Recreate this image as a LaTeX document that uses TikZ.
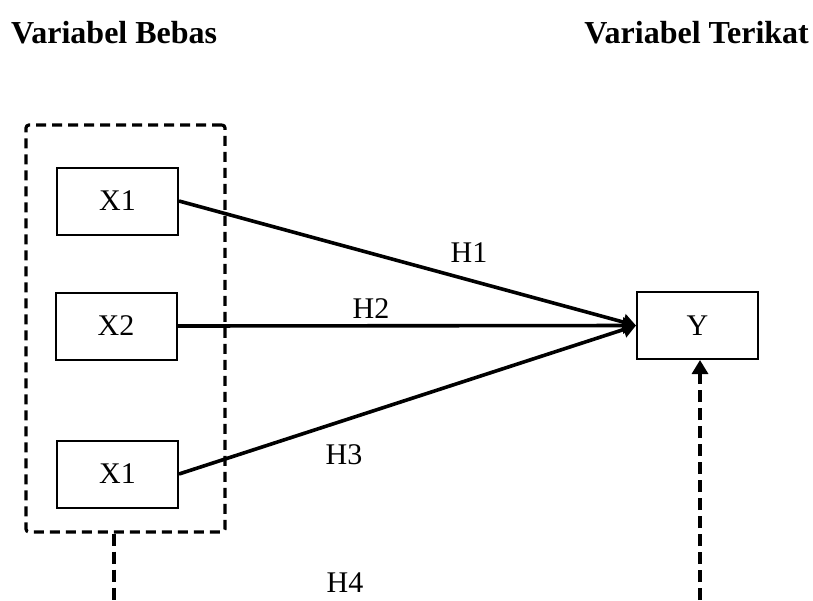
\documentclass[tikz,border=0pt]{standalone}
\usepackage{fontspec}
\setmainfont{Liberation Serif}
\usetikzlibrary{arrows.meta}
\begin{document}
\begin{tikzpicture}[x=1pt,y=-1pt,
 varbox/.style={draw, line width=2pt, minimum width=121pt, minimum height=67pt, inner sep=0pt, font=\fontsize{30}{36}\selectfont},
 groupbox/.style={draw, line width=3.2pt, dash pattern=on 10pt off 6pt, rounded corners=3pt, minimum width=199pt, minimum height=407pt, inner sep=0pt},
 link/.style={line width=3.6pt, -{Triangle[length=13pt,width=16pt]}},
 dlink/.style={line width=3.2pt, dash pattern=on 12pt off 6pt},
 hlabel/.style={font=\fontsize{30}{36}\selectfont, inner sep=0pt},
 title/.style={font=\fontsize{32}{38}\selectfont\bfseries, inner sep=0pt}]
\useasboundingbox (0,0) rectangle (813,600);
\node[title, anchor=west] (tb) at (11,33) {Variabel Bebas};
\node[title, anchor=east] (tt) at (809,33) {Variabel Terikat};
\node[groupbox] (group) at (125.5,328.5) {};
\node[varbox] (x1) at (117.5,201) {X1};
\node[varbox] (x2) at (116,326) {X2};
\node[varbox] (x3) at (117.5,474) {X1};
\node[varbox] (y) at (697.5,325.5) {Y};
\draw[link] (x1.east) -- (y.west);
\draw[link] (x2.east) -- (y.west);
\draw[link] (x3.east) -- (y.west);
\node[hlabel] (h1) at (469,253) {H1};
\node[hlabel] (h2) at (371,309) {H2};
\node[hlabel] (h3) at (344,455) {H3};
\node[hlabel] (h4) at (345,583) {H4};
\coordinate (b1) at (114,600);
\coordinate (b2) at (700,600);
\draw[dlink] (group.south -| b1) -- (b1);
\draw[dlink, -{Triangle[length=14pt,width=16pt]}] (b2) -- (y.south -| b2);
\end{tikzpicture}
\end{document}
